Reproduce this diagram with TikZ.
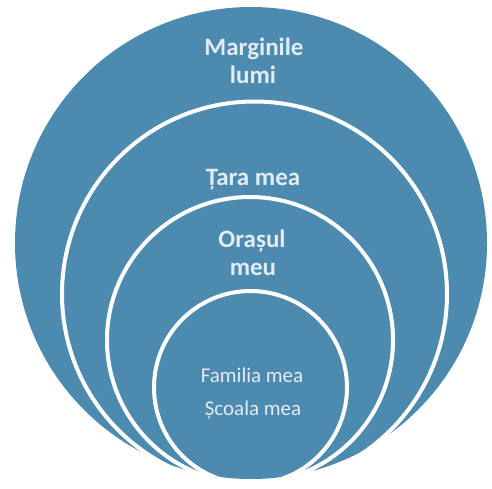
\documentclass[tikz,border=0pt]{standalone}
\usepackage{fontspec}
\setmainfont{Carlito}
\definecolor{discblue}{RGB}{76,138,176}
\definecolor{labeltext}{RGB}{226,236,242}
\tikzset{
  ring/.style={draw=white, line width=4pt},
  biglabel/.style={text=labeltext, anchor=base, inner sep=0pt, font=\fontsize{25}{29}\selectfont\bfseries},
  smalllabel/.style={text=labeltext, anchor=base, inner sep=0pt, font=\fontsize{21}{25}\selectfont},
}
\begin{document}
\begin{tikzpicture}[x=1pt,y=-1pt]
\useasboundingbox (0,0) rectangle (492,488);
\fill[white] (0,0) rectangle (492,488);
% outer disc
\fill[discblue] (251,243) circle[radius=236];
% nested rings
\draw[ring] (254.5,294) circle[radius=192.5];
\draw[ring] (250,340) circle[radius=143];
\draw[ring] (250.5,387.5) circle[radius=96.5];
% labels
\node[biglabel] (m1) at (254,55) {Marginile};
\node[biglabel] (m2) at (253,83) {lumi};
\node[biglabel] (t1) at (253,185) {Țara mea};
\node[biglabel] (o1) at (252,247) {Orașul};
\node[biglabel] (o2) at (253,275) {meu};
\node[smalllabel] (f1) at (252,382) {Familia mea};
\node[smalllabel] (s1) at (253,415) {Școala mea};
\end{tikzpicture}
\end{document}
